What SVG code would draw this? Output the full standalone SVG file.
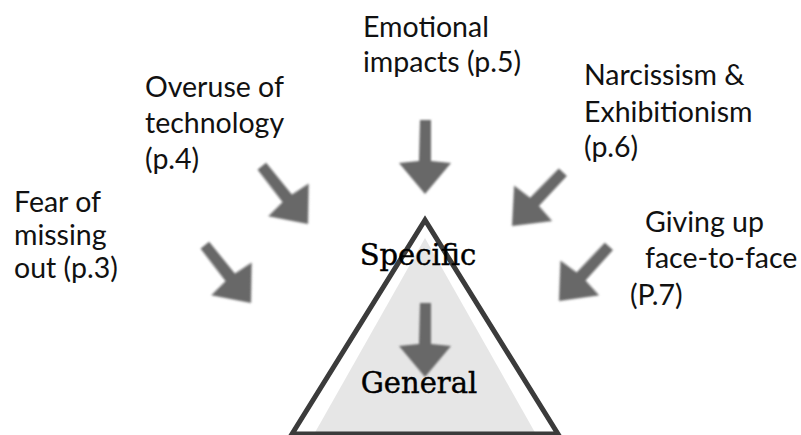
<svg xmlns="http://www.w3.org/2000/svg" width="801" height="435" viewBox="0 0 801 435">
  <style>
    .lbl { font-family: Lato, "Open Sans", sans-serif; font-size: 28.5px; fill: #111; }
    .lvl { font-family: "DejaVu Serif", "Liberation Serif", serif; font-size: 29px; fill: #000; stroke: #000; stroke-width: 0.4; text-anchor: middle; }
    .arrow { fill: #676767; filter: url(#soft); }
  </style>
  <defs>
    <filter id="soft" x="-30%" y="-30%" width="160%" height="160%">
      <feGaussianBlur stdDeviation="1.2"/>
    </filter>
    <filter id="edge" x="-5%" y="-5%" width="110%" height="110%">
      <feGaussianBlur stdDeviation="0.6"/>
    </filter>
    <!-- downward arrow, tip at the origin -->
    <path id="arw" d="M -5,-74 L 6,-74 L 6,-33 L 26,-31 L 0,0 L -26,-31 L -6,-33 Z"/>
  </defs>

  <rect width="801" height="435" fill="#fff"/>

  <!-- pyramid -->
  <g id="pyramid">
    <polygon points="425,238 313,436 537,436" fill="#e6e6e6"/>
    <polygon points="425,220 292,434 558,434" fill="none" stroke="#3a3a3a" stroke-width="5" stroke-linejoin="miter" filter="url(#edge)"/>
    <line x1="365" y1="327" x2="483" y2="327" stroke="#333" stroke-width="3" filter="url(#edge)"/>
  </g>

  <!-- arrows -->
  <g id="connectors">
    <use href="#arw" class="arrow" transform="translate(425,194)"/>
    <use href="#arw" class="arrow" transform="translate(308,224) rotate(-39)"/>
    <use href="#arw" class="arrow" transform="translate(251,303) rotate(-39)"/>
    <use href="#arw" class="arrow" transform="translate(512,226) rotate(43)"/>
    <use href="#arw" class="arrow" transform="translate(559,301) rotate(42)"/>
    <use href="#arw" class="arrow" transform="translate(425,377)"/>
  </g>

  <g id="specific"><text class="lvl" x="418" y="265">Specific</text></g>
  <g id="general"><text class="lvl" x="419" y="393">General</text></g>

  <g id="emotional">
    <text class="lbl" x="363" y="37">Emotional</text>
    <text class="lbl" x="363" y="72">impacts (p.5)</text>
  </g>
  <g id="overuse">
    <text class="lbl" x="145" y="97">Overuse of</text>
    <text class="lbl" x="145" y="133">technology</text>
    <text class="lbl" x="145" y="169">(p.4)</text>
  </g>
  <g id="fomo">
    <text class="lbl" x="14" y="212">Fear of</text>
    <text class="lbl" x="14" y="245">missing</text>
    <text class="lbl" x="14" y="278">out (p.3)</text>
  </g>
  <g id="narcissism">
    <text class="lbl" x="584" y="85">Narcissism &amp;</text>
    <text class="lbl" x="584" y="122">Exhibitionism</text>
    <text class="lbl" x="584" y="157">(p.6)</text>
  </g>
  <g id="giving-up">
    <text class="lbl" x="645" y="232">Giving up</text>
    <text class="lbl" x="645" y="268">face-to-face</text>
    <text class="lbl" x="630" y="305">(P.7)</text>
  </g>
</svg>
